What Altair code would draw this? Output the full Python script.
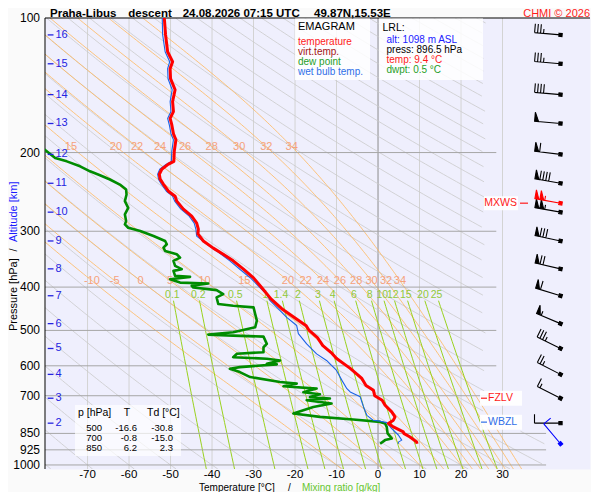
import numpy as np
import pandas as pd
import altair as alt

# ---------------- values ----------------
TEMP = [(100, -51.5), (109, -51.2), (119, -50.7), (125.3, -49.5), (129.8, -50.1), (136.7, -50.0),
        (144.7, -48.9), (153.8, -49.5), (161.9, -49.3), (167.8, -50.1), (173.3, -49.7), (181.5, -49.3),
        (187.2, -48.7), (198.8, -49.1), (209.3, -49.2), (212.6, -50.6), (218, -52.1), (223.6, -52.7),
        (229.4, -52.5), (235.5, -51.7), (244.1, -50.5), (250.4, -48.9), (256.9, -48.5), (267.7, -46.9),
        (277.5, -44.9), (287.7, -43.7), (296.6, -43.3), (304.2, -43.4), (315.4, -42.1), (327.2, -39.7),
        (337.6, -37.3), (349.4, -34.9), (364.1, -32.5), (381.4, -30.0), (401.4, -28.0), (425, -25.8),
        (447, -23.2), (469, -20.0), (488, -17.3), (500, -16.6), (519, -14.6), (540.6, -13.3),
        (560.5, -11.3), (577.6, -10.0), (608.1, -6.7), (640.2, -3.9), (663.7, -2.9), (680.8, -1.1),
        (700, -0.8), (716.5, 1.0), (735, 1.7), (760.9, 3.3), (780.6, 4.1), (794, 3.7), (807.8, 2.5),
        (822, 3.7), (843.6, 6.1), (850, 6.2), (865.6, 7.7), (888, 9.3), (896.5, 9.4)]

WETBULB = [(100, -52.0), (109, -51.9), (119, -51.3), (125.3, -50.2), (129.8, -50.7), (136.7, -50.6),
           (144.7, -49.6), (153.8, -50.1), (161.9, -49.9), (167.8, -50.7), (173.3, -50.3), (181.5, -49.9),
           (187.2, -49.3), (198.8, -49.7), (209.3, -49.8), (212.6, -51.1), (218, -52.6), (223.6, -53.1),
           (229.4, -52.9), (235.5, -52.2), (244.1, -51.0), (250.4, -49.5), (256.9, -49.0), (267.7, -47.5),
           (277.5, -45.5), (287.7, -44.3), (296.6, -43.9), (307.6, -43.7), (320.3, -41.3), (332, -38.9),
           (349.4, -35.7), (364.8, -33.3), (381.1, -30.8), (401.4, -28.4), (415.1, -26.8), (429, -26.0),
           (451.6, -23.6), (467.4, -22.0), (487.6, -19.6), (508.2, -19.2), (535.9, -17.2), (564.3, -14.8),
           (583.6, -12.4), (614.4, -10.0), (646.8, -8.7), (675, -7.5), (686.6, -6.7), (704, -4.3),
           (741.6, -3.5), (774.3, -2.7), (794, -1.2), (798, 0.5), (804, 2.1), (829, 3.3), (857, 4.9),
           (880, 5.7), (889, 4.9), (896.5, 4.9)]

DEWPT = [(193, -81.5), (205.8, -77.8), (209.3, -75.0), (214.7, -71.8), (220.3, -69.4), (224.8, -67.0),
         (229.8, -64.6), (235.9, -62.2), (242, -60.7), (248.3, -60.6), (256.9, -61.0), (265.9, -60.2),
         (275.1, -61.0), (284.7, -60.7), (289.5, -61.0), (294.6, -60.2), (299.7, -57.3), (307.5, -54.1),
         (315.4, -51.3), (320.8, -50.9), (326.5, -51.7), (332.1, -51.3), (337.7, -48.5), (343.6, -47.7),
         (349.4, -49.3), (358.5, -48.9), (364.7, -47.3), (367.9, -49.3), (377.5, -48.9), (379.5, -45.3),
         (384, -50.1), (390.8, -47.7), (392.7, -40.9), (397.4, -44.9), (400.9, -44.5), (406.2, -38.9),
         (414.6, -37.3), (421.9, -38.9), (436.4, -38.5), (440.2, -34.9), (444.1, -30.0), (459.4, -29.6),
         (475.4, -29.2), (492, -29.6), (504.9, -34.9), (510.9, -40.9), (513.6, -34.9), (516.3, -27.6),
         (535.8, -26.8), (545.2, -27.6), (559.4, -27.6), (564, -34.0), (573.9, -34.9), (578.7, -26.8),
         (583.6, -23.6), (593.6, -26.8), (595.7, -24.4), (604, -33.3), (609, -35.7), (619.7, -33.3),
         (635.8, -30.8), (652.4, -23.6), (657.7, -19.6), (666.8, -22.8), (674.7, -14.8), (687.6, -18.0),
         (694.7, -14.0), (704.4, -16.4), (710.2, -11.6), (716.5, -17.2), (728.8, -11.2), (741.6, -15.6),
         (754.3, -18.0), (767.3, -20.4), (780.6, -14.0), (791.1, -6.0), (801, 0.5), (807.5, 1.7),
         (821.8, 2.1), (850, 2.3), (872.1, 3.3), (879.8, 1.7), (896.5, 0.5)]

ALT_KM = [16, 15, 14, 13, 12, 11, 10, 9, 8, 7, 6, 5, 4, 3, 2]
ALT_P = [109.1, 126.6, 148.4, 172.2, 201.9, 234.3, 271.9, 315.4, 364.1, 418.2, 482.8, 548.8, 627.1, 709.1, 806.3]

WIND_P = [109.1, 126.6, 148.4, 172.2, 201.9, 234.3, 271.9, 315.4, 364.1, 418.2, 482.8, 548.8, 627.1, 709.1, 806.3]
WIND_SPD = [35, 35, 40, 50, 60, 90, 105, 80, 70, 60, 55, 35, 25, 15, 10]
WIND_DIR = [275, 275, 275, 275, 277, 280, 280, 282, 283, 287, 293, 296, 297, 297, 270]
MXWS = [259.6, 105, 280]
SFC_WIND = [896.5, 10, 320]
FZLV_P = [709.0]
WBZL_P = [802.0]

ISOTHERMS = [-70, -60, -50, -40, -30, -20, -10, 10, 20, 30]
ZERO_ISO = [0]
P_UPPER = [200, 300, 400, 500, 600, 700]
P_LOWER = [850, 925, 1000]
P_TICKS = [100, 200, 300, 400, 500, 600, 700, 850, 925, 1000]
T_TICKS = [-70, -60, -50, -40, -30, -20, -10, 0, 10, 20, 30]
THETA = list(range(-80, 361, 10))
THETA_W = [-10, -5, 0, 5, 10, 15, 20, 22, 24, 26, 28, 30, 32, 34]
MIX = [0.1, 0.2, 0.5, 1, 1.4, 2, 3, 4, 6, 8, 10, 12, 15, 20, 25]
MIX_TXT = ["0.1", "0.2", "0.5", "1", "1.4", "2", "3", "4", "6", "8", "10", "12", "15", "20", "25"]
TABLE_P = ["500", "700", "850"]
TABLE_T = ["-16.6", "-0.8", "6.2"]
TABLE_TD = ["-30.8", "-15.0", "2.3"]

# ---------------- layout ----------------
W, H = 545, 451
XS = alt.Scale(domain=[-80.25, 51.08], nice=False, zero=False)
YS = alt.Scale(type="log", domain=[100, 1021], nice=False, reverse=True)
FONT = "Liberation Sans"


def xq(f="T"):
    return alt.X(f + ":Q", scale=XS, axis=None)


def yq(f="p"):
    return alt.Y(f + ":Q", scale=YS, axis=None)


def clipped(name, ps, ts, tmax_upper):
    rows = []
    seg = 0
    prev = False
    for i, (p, t) in enumerate(zip(ps, ts)):
        lim = tmax_upper if p < 835 else 40.5
        ok = t <= lim
        if ok:
            if not prev:
                seg += 1
            rows.append({"id": f"{name}_{seg}", "p": float(p), "T": float(t), "o": i})
        prev = ok
    return rows


PG = np.geomspace(100, 1021, 180)

# dry adiabats
dry_rows = []
for th in THETA:
    ts = (th + 273.15) * (PG / 1000.0) ** 0.2857 - 273.15
    dry_rows += clipped(f"d{th}", PG, ts, 26.0)
dry_df = pd.DataFrame(dry_rows)


# pseudo-adiabats
def es_hpa(tk):
    return 6.112 * np.exp(17.67 * (tk - 273.15) / (tk - 29.65))


def dTdp(p, tk):
    e = es_hpa(tk)
    rs = 0.622 * e / (p - e)
    num = 287.04 * tk + 2.501e6 * rs
    den = 1005.7 + (2.501e6 ** 2) * rs * 0.622 / (287.04 * tk * tk)
    return num / (p * den)


def integrate(tw, ps):
    tk = tw + 273.15
    out = [tk]
    for p0, p1 in zip(ps[:-1], ps[1:]):
        h = p1 - p0
        k1 = dTdp(p0, tk)
        k2 = dTdp(p0 + h / 2, tk + h / 2 * k1)
        k3 = dTdp(p0 + h / 2, tk + h / 2 * k2)
        k4 = dTdp(p1, tk + h * k3)
        tk = tk + h * (k1 + 2 * k2 + 2 * k3 + k4) / 6
        out.append(tk)
    return np.array(out) - 273.15


PUP = np.geomspace(1000, 100, 181)
PDN = np.linspace(1000, 1021, 4)
moist_rows, mlab_rows = [], []
for tw in THETA_W:
    tu = integrate(tw, PUP)
    td = integrate(tw, PDN)
    ps = np.concatenate([PUP[::-1], PDN[1:]])
    ts = np.concatenate([tu[::-1], td[1:]])
    moist_rows += clipped(f"m{tw}", ps, ts, 28.5)
    for plab in (194.0, 387.0):
        tl = float(np.interp(np.log(plab), np.log(ps), ts))
        if tl > -79 and not (plab < 300 and tw < 15):
            mlab_rows.append({"p": plab, "T": tl, "txt": str(tw)})
moist_df = pd.DataFrame(moist_rows)
mlab_df = pd.DataFrame(mlab_rows)


# mixing-ratio lines
def td_from_w(w, p):
    e = w * p / (622.0 + w)
    a = np.log(e / 6.112)
    return 243.5 * a / (17.67 - a)


PM = np.geomspace(429, 1021, 30)
mix_rows, xlab_rows = [], []
for w, txt in zip(MIX, MIX_TXT):
    mix_rows += clipped(f"w{w}", PM, td_from_w(w, PM), 28.5)
    xlab_rows.append({"p": 416.0, "T": float(td_from_w(w, 416.0)), "txt": txt})
mix_df = pd.DataFrame(mix_rows)
xlab_df = pd.DataFrame(xlab_rows)


def prof_df(pairs):
    return pd.DataFrame({"p": [a for a, b in pairs], "T": [b for a, b in pairs], "o": list(range(len(pairs)))})


ONE = pd.DataFrame({"k": [0]})


def label(txt, x, y, color="black", size=11, align="left", weight="normal", baseline="middle", angle=0):
    return alt.Chart(ONE).mark_text(text=txt, align=align, baseline=baseline, color=color,
                                    fontSize=size, fontWeight=weight, angle=angle, font=FONT).encode(
        x=alt.value(x), y=alt.value(y))


def box(x1, x2, y1, y2, opacity=0.85):
    return alt.Chart(ONE).mark_rect(color="white", opacity=opacity).encode(
        x=alt.value(x1), x2=alt.value(x2), y=alt.value(y1), y2=alt.value(y2))


def barb_path(spd):
    L, fl = 26.0, 9.0
    parts = [f"M0 0 L{-L} 0"]
    x = -L
    n50 = spd // 50
    rem = spd - 50 * n50
    n10 = rem // 10
    n5 = (rem - 10 * n10) // 5
    for _ in range(n50):
        parts.append(f"M{x:.1f} 0 L{x:.1f} {-fl} L{x + 4:.1f} 0 Z")
        x += 5
    for _ in range(n10):
        parts.append(f"M{x:.1f} 0 L{x:.1f} {-fl}")
        x += 3
    for _ in range(n5):
        if x == -L:
            x += 3
        parts.append(f"M{x:.1f} 0 L{x:.1f} {-fl / 2}")
    parts.append("M-1.6 -1.6 L1.6 -1.6 L1.6 1.6 L-1.6 1.6 Z")
    return " ".join(parts)


layers = []

# isotherms
layers.append(alt.Chart(pd.DataFrame({"T": ISOTHERMS})).mark_rule(color="#d3d3d3", strokeWidth=1).encode(
    x=xq(), y=alt.value(0), y2=alt.value(H)))
layers.append(alt.Chart(pd.DataFrame({"T": ZERO_ISO})).mark_rule(color="#8c8c8c", strokeWidth=1).encode(
    x=xq(), y=alt.value(0), y2=alt.value(H)))

layers.append(alt.Chart(dry_df).mark_line(color="#cacaca", strokeWidth=0.8, clip=True).encode(
    x=xq(), y=yq(), detail="id:N", order="o:Q"))
layers.append(alt.Chart(moist_df).mark_line(color="#ffb85c", strokeWidth=0.8, clip=True).encode(
    x=xq(), y=yq(), detail="id:N", order="o:Q"))
layers.append(alt.Chart(mix_df).mark_line(color="#9ad21e", strokeWidth=1, clip=True).encode(
    x=xq(), y=yq(), detail="id:N", order="o:Q"))

# pressure grid
grid_df = pd.DataFrame({"p": P_UPPER + P_LOWER,
                        "T1": [-80.25] * (len(P_UPPER) + len(P_LOWER)),
                        "T2": [28.5] * len(P_UPPER) + [40.5] * len(P_LOWER)})
layers.append(alt.Chart(grid_df).mark_rule(color="#a6a6a6", strokeWidth=1).encode(
    x=xq("T1"), x2="T2:Q", y=yq()))

# axis labels and left axis line
layers.append(alt.Chart(pd.DataFrame({"p": P_TICKS, "txt": [str(v) for v in P_TICKS]})).mark_text(
    align="right", baseline="middle", fontSize=12, color="black", font=FONT).encode(
    x=alt.value(-5), y=yq(), text="txt:N"))
layers.append(alt.Chart(pd.DataFrame({"T": T_TICKS, "txt": [str(v) for v in T_TICKS]})).mark_text(
    align="center", baseline="top", fontSize=11.5, color="black", font=FONT).encode(
    x=xq(), y=alt.value(H + 0.3), text="txt:N"))
layers.append(alt.Chart(ONE).mark_rule(color="black", strokeWidth=1).encode(
    x=alt.value(0), y=alt.value(0), y2=alt.value(H)))

layers.append(alt.Chart(mlab_df).mark_text(color="#f5a27c", fontSize=11, font=FONT).encode(
    x=xq(), y=yq(), text="txt:N"))
layers.append(alt.Chart(xlab_df).mark_text(color="#92c93a", fontSize=10.5, font=FONT).encode(
    x=xq(), y=yq(), text="txt:N"))

# top border
layers.append(alt.Chart(ONE).mark_rule(color="black", strokeWidth=1).encode(
    x=alt.value(0), x2=alt.value(W), y=alt.value(0)))

# profiles
layers.append(alt.Chart(prof_df(DEWPT)).mark_line(color="#008c00", strokeWidth=2.6, clip=True,
                                                  strokeJoin="round").encode(x=xq(), y=yq(), order="o:Q"))
layers.append(alt.Chart(prof_df(WETBULB)).mark_line(color="#1a62e6", strokeWidth=1.1, clip=True,
                                                    strokeJoin="round").encode(x=xq(), y=yq(), order="o:Q"))
layers.append(alt.Chart(prof_df(TEMP)).mark_line(color="#ff0000", strokeWidth=3, clip=True,
                                                 strokeJoin="round").encode(x=xq(), y=yq(), order="o:Q"))

# altitude scale
alt_df = pd.DataFrame({"p": ALT_P, "lab": [str(k) for k in ALT_KM]})
layers.append(alt.Chart(alt_df).mark_rule(color="#2424e0", strokeWidth=1.3).encode(
    x=alt.value(2.7), x2=alt.value(8.5), y=yq()))
layers.append(alt.Chart(alt_df).mark_text(color="#2424e0", fontSize=11, align="left", font=FONT).encode(
    x=alt.value(10.5), y=yq(), text="lab:N"))

# legend boxes
layers.append(box(250, 325, 0.5, 62))
layers.append(label("EMAGRAM", 253, 8.5, size=11))
layers.append(label("temperature", 253, 24, color="#ff1a1a", size=10))
layers.append(label("virt.temp.", 253, 34, color="#a31515", size=10))
layers.append(label("dew point", 253, 44, color="#1f9d1f", size=10))
layers.append(label("wet bulb temp.", 253, 54, color="#2f6fe8", size=10))

layers.append(box(334, 438, 0.5, 62))
layers.append(label("LRL:", 337.5, 9.5, size=10.5))
layers.append(label("alt: 1098 m ASL", 341.5, 22, color="#1a1aff", size=10))
layers.append(label("press: 896.5 hPa", 341.5, 32, size=10))
layers.append(label("temp: 9.4 °C", 341.5, 42, color="#ff1a1a", size=10))
layers.append(label("dwpt: 0.5 °C", 341.5, 52, color="#1f9d1f", size=10))

# table
layers.append(box(30, 136, 387, 438, opacity=0.7))
layers.append(label("p [hPa]", 33, 395, size=10.5))
layers.append(label("T", 82, 395, align="center", size=10.5))
layers.append(label("Td [°C]", 102, 395, size=10.5))
for i, (a, b, c) in enumerate(zip(TABLE_P, TABLE_T, TABLE_TD)):
    yy = 410.3 + 9.8 * i
    layers.append(label(a, 57, yy, align="right", size=9.5))
    layers.append(label(b, 92, yy, align="right", size=9.5))
    layers.append(label(c, 128, yy, align="right", size=9.5))

# level markers
lev_df = pd.DataFrame({"p": FZLV_P + WBZL_P, "txt": ["FZLV", "WBZL"], "col": ["#ff1a1a", "#2f6fe8"]})
layers.append(alt.Chart(lev_df).mark_point(shape="M-21 -7.5 L21 -7.5 L21 7.5 L-21 7.5 Z", size=4,
                                           filled=True, color="white", opacity=0.9).encode(
    x=alt.value(456), y=yq()))
layers.append(alt.Chart(lev_df).mark_rule(strokeWidth=1.2).encode(
    x=alt.value(436), x2=alt.value(442), y=yq(), color=alt.Color("col:N", scale=None)))
layers.append(alt.Chart(lev_df).mark_text(fontSize=10.5, align="left", font=FONT).encode(
    x=alt.value(443), y=yq(), text="txt:N", color=alt.Color("col:N", scale=None)))

mx_df = pd.DataFrame({"p": [MXWS[0]]})
layers.append(alt.Chart(mx_df).mark_point(shape="M-17 -7 L17 -7 L17 7 L-17 7 Z", size=4,
                                          filled=True, color="white", opacity=0.9).encode(
    x=alt.value(456), y=yq()))
layers.append(alt.Chart(mx_df).mark_text(text="MXWS", fontSize=10.5, align="right", color="#ff1a1a",
                                         font=FONT).encode(x=alt.value(472), y=yq()))
layers.append(alt.Chart(mx_df).mark_rule(color="#ff1a1a", strokeWidth=1.2).encode(
    x=alt.value(475), x2=alt.value(483), y=yq()))

# wind barbs
bdf = pd.DataFrame({"p": WIND_P + [MXWS[0], SFC_WIND[0]],
                    "spd": WIND_SPD + [MXWS[1], SFC_WIND[1]],
                    "dir": WIND_DIR + [MXWS[2], SFC_WIND[2]],
                    "col": ["black"] * len(WIND_P) + ["#ff0000", "#0000ff"]})
bdf["glyph"] = [barb_path(int(s)) for s in bdf["spd"]]
bdf["ang"] = (bdf["dir"] - 270) % 360
layers.append(alt.Chart(bdf).mark_point(filled=True, size=4, strokeWidth=1.1, opacity=1).encode(
    x=alt.value(515.5), y=yq(),
    shape=alt.Shape("glyph:N", scale=None),
    angle=alt.Angle("ang:Q", scale=None),
    color=alt.Color("col:N", scale=None),
    stroke=alt.Stroke("col:N", scale=None)))

# titles
TY = -0.8
layers.append(label("Praha-Libus", 5, TY, size=11.5, weight="bold", baseline="alphabetic"))
layers.append(label("descent", 83.3, TY, size=11.5, weight="bold", baseline="alphabetic"))
layers.append(label("24.08.2026 07:15 UTC", 137.7, TY, size=11.5, weight="bold", baseline="alphabetic"))
layers.append(label("49.87N,15.53E", 269, TY, size=11.5, weight="bold", baseline="alphabetic"))
layers.append(label("CHMI © 2026", 545, TY, color="#ff1a1a", size=11, align="right", baseline="alphabetic"))

XT = 472.6
layers.append(label("Temperature [°C]", 154, XT, size=10, baseline="alphabetic"))
layers.append(label("/", 243, XT, size=10, baseline="alphabetic"))
layers.append(label("Mixing ratio [g/kg]", 257, XT, size=10, color="#66c62e", baseline="alphabetic"))

layers.append(label("Pressure [hPa]", -31.5, 313, angle=270))
layers.append(label("/", -31.5, 232, angle=270, align="center"))
layers.append(label("Altitude [km]", -31.5, 224, angle=270, color="#1a1aff"))

chart = alt.layer(*layers).properties(
    width=W, height=H,
    autosize=alt.AutoSizeParams(type="none"),
    padding={"left": 37, "top": 10, "right": 1, "bottom": 23},
    background="#fafafa",
).configure(font=FONT, view=alt.ViewConfig(fill="#efeffd", strokeOpacity=0))

chart.save("out.html", embed_options={"renderer": "svg", "actions": False})
